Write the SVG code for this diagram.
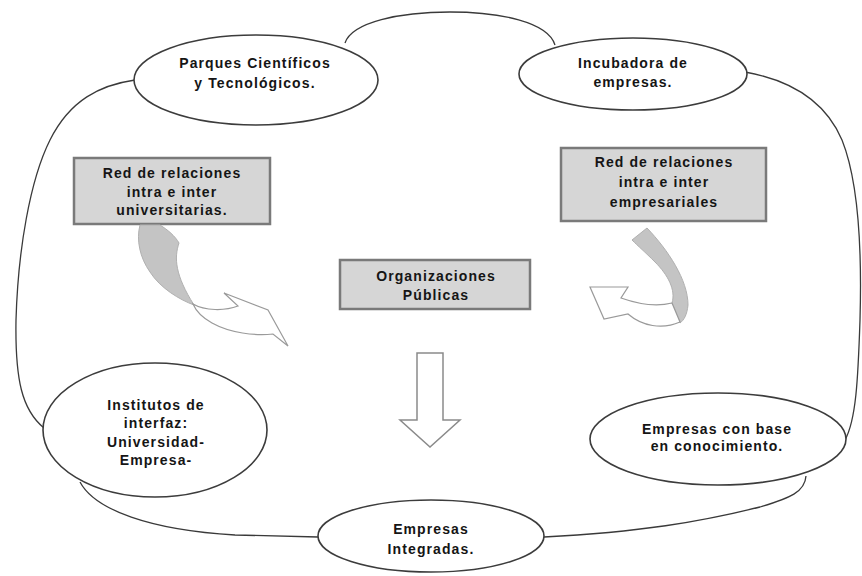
<svg xmlns="http://www.w3.org/2000/svg" width="862" height="576" viewBox="0 0 862 576">
<style>
.bg{fill:#ffffff}
.conn{fill:none;stroke:#3a3a3a;stroke-width:1.3}
.ell{fill:#ffffff;stroke:#3c3c3c;stroke-width:1.6}
.box{fill:#d6d6d6;stroke:#7a7a7a;stroke-width:2.5}
.t{font-family:"Liberation Sans",Arial,sans-serif;font-weight:bold;font-size:14px;letter-spacing:1.1px;fill:#151515;text-anchor:middle}
.shade{fill:#c4c4c4;stroke:#b0b0b0;stroke-width:1}
.hollow{fill:#ffffff;stroke:#9a9a9a;stroke-width:1.2}
</style>
<rect class="bg" x="0" y="0" width="862" height="576"/>
<g id="connectors">
<path class="conn" d="M345,43 C352,22 400,12 450,12 C500,12 548,22 555,45"/>
<path class="conn" d="M745,72 C790,80 825,100 842,140 C858,180 862,250 860,320 C858,380 856,420 845,440"/>
<path class="conn" d="M806,476 C805,492 790,498 760,507 C700,522 640,532 544,537"/>
<path class="conn" d="M318,537 L235,535 C150,530 95,510 80,482"/>
<path class="conn" d="M44,428 C22,410 15,380 16,320 C18,250 30,180 50,140 C70,100 100,85 135,80"/>
</g>
<g id="parques">
<ellipse class="ell" cx="256" cy="80" rx="122" ry="45"/>
<text class="t" x="255" y="68">Parques Científicos</text>
<text class="t" x="255" y="88">y Tecnológicos.</text>
</g>
<g id="incubadora">
<ellipse class="ell" cx="633" cy="74" rx="114" ry="36"/>
<text class="t" x="633" y="68">Incubadora de</text>
<text class="t" x="633" y="87">empresas.</text>
</g>
<g id="red-universitarias">
<rect class="box" x="74" y="158" width="196" height="66"/>
<text class="t" x="172" y="178">Red de relaciones</text>
<text class="t" x="172" y="197">intra e inter</text>
<text class="t" x="172" y="215">universitarias.</text>
</g>
<g id="red-empresariales">
<rect class="box" x="561" y="148" width="205" height="73"/>
<text class="t" x="664" y="167">Red de relaciones</text>
<text class="t" x="664" y="187">intra e inter</text>
<text class="t" x="664" y="207">empresariales</text>
</g>
<g id="organizaciones">
<rect class="box" x="340" y="260" width="190" height="49"/>
<text class="t" x="436" y="281">Organizaciones</text>
<text class="t" x="436" y="300">Públicas</text>
</g>
<g id="curved-arrow-left">
<path class="shade" d="M140,225 L160,225 C168,230 175,236 179,243 C174,258 175,275 194,305 C180,300 160,288 150,272 C140,258 136,240 140,225 Z"/>
<path class="hollow" d="M193,304 C205,311 225,311 238,306 L224,293 L268,310 L288,346 L273,334 C255,336 230,333 212,323 C203,318 196,311 193,304 Z"/>
</g>
<g id="curved-arrow-right">
<path class="shade" d="M632,240 L647,228 C668,250 688,280 688,305 C687,315 684,320 680,323 L672,303 C676,290 668,275 655,262 C645,252 638,246 632,240 Z"/>
<path class="hollow" d="M680,322 C662,330 642,326 628,314 L604,319 L590,287 L628,287 L621,298 C638,304 656,307 672,303 Z"/>
</g>
<g id="down-arrow">
<path class="hollow" d="M417,353 L443,353 L443,420 L460,420 L430,447 L400,420 L417,420 Z" style="stroke:#8a8a8a;stroke-width:1.5"/>
</g>
<g id="institutos">
<ellipse class="ell" cx="155" cy="430" rx="112" ry="67"/>
<text class="t" x="156" y="410">Institutos de</text>
<text class="t" x="156" y="428">interfaz:</text>
<text class="t" x="156" y="447">Universidad-</text>
<text class="t" x="156" y="465">Empresa-</text>
</g>
<g id="empresas-conocimiento">
<ellipse class="ell" cx="718" cy="439" rx="128" ry="46"/>
<text class="t" x="717" y="434">Empresas con base</text>
<text class="t" x="717" y="451">en conocimiento.</text>
</g>
<g id="empresas-integradas">
<ellipse class="ell" cx="431" cy="536" rx="113" ry="36"/>
<text class="t" x="431" y="534">Empresas</text>
<text class="t" x="431" y="554">Integradas.</text>
</g>
</svg>
